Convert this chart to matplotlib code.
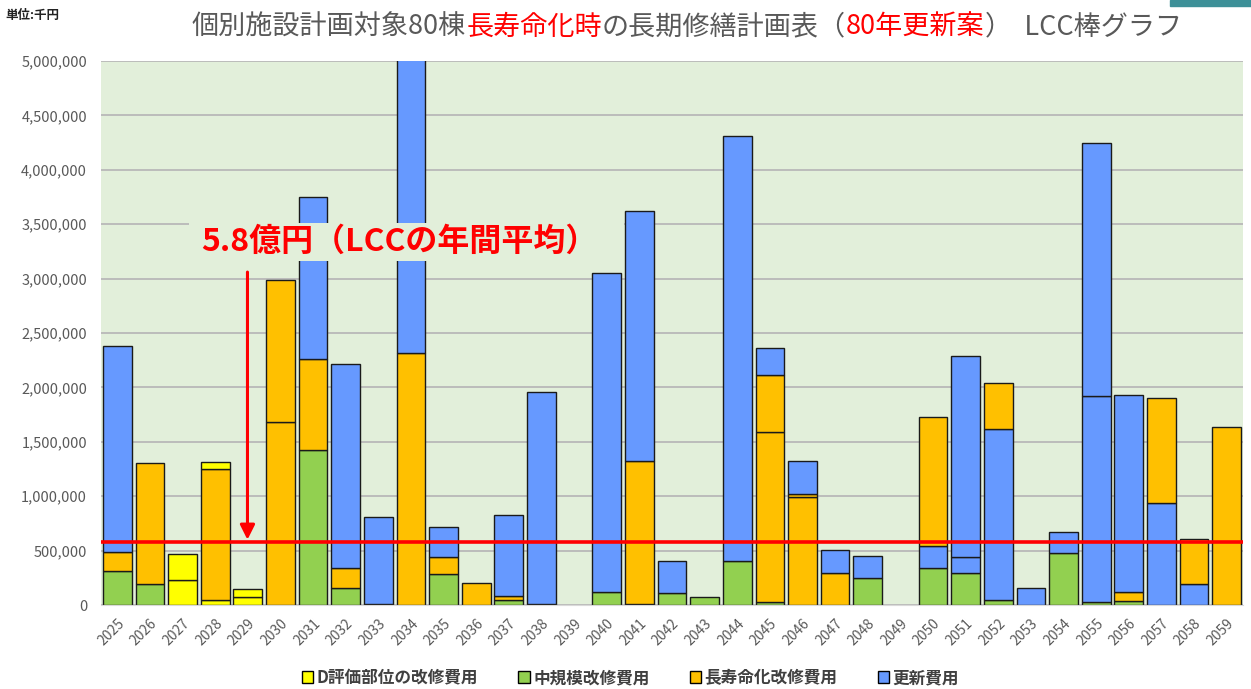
import numpy as np
import matplotlib
matplotlib.use('Agg')
import matplotlib.pyplot as plt
from matplotlib.patches import Patch, Rectangle

plt.rcParams['font.family'] = ['Noto Sans CJK JP', 'DejaVu Sans']

# 単位: 千円
years = [str(y) for y in range(2025, 2060)]

# group A (bottom stack)
d_a = [0, 0, 233000, 49000, 74000, 0, 0, 0, 0, 0,
       0, 0, 0, 0, 0, 0, 0, 0, 0, 0,
       0, 0, 0, 0, 0, 0, 0, 0, 0, 0,
       0, 0, 0, 0, 0]
g_a = [315000, 193000, 0, 0, 0, 0, 1425000, 159000, 12000, 0,
       282000, 0, 50000, 0, 0, 122000, 6000, 107000, 74000, 404000,
       25000, 0, 0, 245000, 0, 343000, 297000, 45000, 0, 481000,
       25000, 40000, 0, 0, 0]
o_a = [175000, 1109000, 0, 1204000, 0, 1685000, 836000, 184000, 0, 2313000,
       162000, 199000, 35000, 12000, 0, 0, 1320000, 0, 0, 0,
       1562000, 995000, 297000, 0, 0, 0, 0, 0, 0, 0,
       0, 82000, 0, 0, 1633000]
u_a = [1893000, 0, 0, 0, 0, 0, 1489000, 1869000, 800000, 3000000,
       270000, 0, 739000, 1943000, 0, 2927000, 2295000, 297000, 0, 3907000,
       0, 0, 209000, 208000, 0, 199000, 147000, 1576000, 159000, 193000,
       1896000, 1808000, 935000, 196000, 0]
# group B (stacked on top)
d_b = [0, 0, 236000, 61000, 73000, 0, 0, 0, 0, 0,
       0, 0, 0, 0, 0, 0, 0, 0, 0, 0,
       0, 0, 0, 0, 0, 0, 0, 0, 0, 0,
       0, 0, 0, 0, 0]
o_b = [0, 0, 0, 0, 0, 1302000, 0, 0, 0, 0,
       0, 0, 0, 0, 0, 0, 0, 0, 0, 0,
       527000, 22000, 0, 0, 0, 1189000, 0, 417000, 0, 0,
       0, 0, 970000, 413000, 0]
u_b = [0, 0, 0, 0, 0, 0, 0, 0, 0, 0,
       0, 0, 0, 0, 0, 0, 0, 0, 0, 0,
       245000, 309000, 0, 0, 0, 0, 1845000, 0, 0, 0,
       2328000, 0, 0, 0, 0]

avg_lcc = 580000

legend_labels = ['D評価部位の改修費用', '中規模改修費用', '長寿命化改修費用', '更新費用']
yellow, green, orange, blue = '#FFFF00', '#92D050', '#FFC000', '#6699FF'
bg = '#E2EFDA'
gray = '#595959'

fig = plt.figure(figsize=(12.51, 6.89), dpi=100)
ax = fig.add_axes([0.0807, 0.1219, 0.9129, 0.7896])
ax.set_facecolor(bg)

x = np.arange(len(years))
bottom = np.zeros(len(years))
for vals, col in [(d_a, yellow), (g_a, green), (o_a, orange), (u_a, blue),
                  (d_b, yellow), (o_b, orange), (u_b, blue)]:
    v = np.array(vals, float)
    m = v > 0
    ax.bar(x[m], v[m], bottom=bottom[m], width=0.88, color=col,
           edgecolor='#1a1a1a', linewidth=1.0, zorder=2)
    bottom += v

ax.set_xlim(-0.5, len(years) - 0.5)
ax.set_ylim(0, 5000000)
ax.set_yticks(range(0, 5000001, 500000))
ax.set_yticklabels([f'{v:,}' for v in range(0, 5000001, 500000)])
ax.set_xticks(x)
ax.set_xticklabels(years, rotation=45, ha='right', rotation_mode='anchor')
ax.tick_params(axis='y', length=0, pad=10, labelsize=10.5, labelcolor=gray)
ax.tick_params(axis='x', length=0, pad=8, labelsize=10, labelcolor=gray)
ax.grid(axis='y', color='#B8B8B8', linewidth=1.3)
ax.set_axisbelow(True)
for s in ['left', 'right', 'top']:
    ax.spines[s].set_visible(False)
ax.spines['bottom'].set_color('#D9D9D9')

# average line + arrow + label
ax.axhline(avg_lcc, color='red', linewidth=2.6, zorder=4)
ax.annotate('', xy=(3.99, 600000), xytext=(3.99, 3060000),
            arrowprops=dict(arrowstyle='-|>', color='red', lw=2.2,
                            mutation_scale=22, shrinkA=0, shrinkB=0), zorder=5)
ax.add_patch(Rectangle((2.2, 3162000), 13.34, 349000, facecolor=bg,
                       edgecolor='none', zorder=5))
ax.text(8.65, 3340000, '5.8億円（LCCの年間平均）', color='red', fontsize=23,
        fontweight='bold', ha='center', va='center', zorder=6)

# multi-colour title
renderer = fig.canvas.get_renderer()
tx, ty = 192 / 1251, 1 - 27 / 689
for s, c in [('個別施設計画対象80棟', gray), ('長寿命化時', 'red'),
             ('の長期修繕計画表（', gray), ('80年更新案', 'red'),
             ('）  LCC棒グラフ', gray)]:
    t = fig.text(tx, ty, s, color=c, fontsize=19.5, ha='left', va='center')
    tx += t.get_window_extent(renderer=renderer).width / fig.bbox.width

fig.text(0.004, 1 - 15 / 689, '単位:千円', fontsize=9, fontweight='bold',
         color='#222222', ha='left', va='center')
fig.patches.append(Rectangle((1170 / 1251, 1 - 6 / 689), 81 / 1251, 6 / 689,
                             transform=fig.transFigure, color='#3D9098'))

handles = [Patch(facecolor=c, edgecolor='black', linewidth=1.0)
           for c in [yellow, green, orange, blue]]
fig.legend(handles, legend_labels, loc='center', bbox_to_anchor=(0.504, 0.016),
           ncol=4, frameon=False, handlelength=0.7, handleheight=0.7,
           handletextpad=0.2, columnspacing=2.4,
           prop=dict(size=12, weight='bold'), labelcolor='#404040')

fig.savefig('out.png', dpi=100)
